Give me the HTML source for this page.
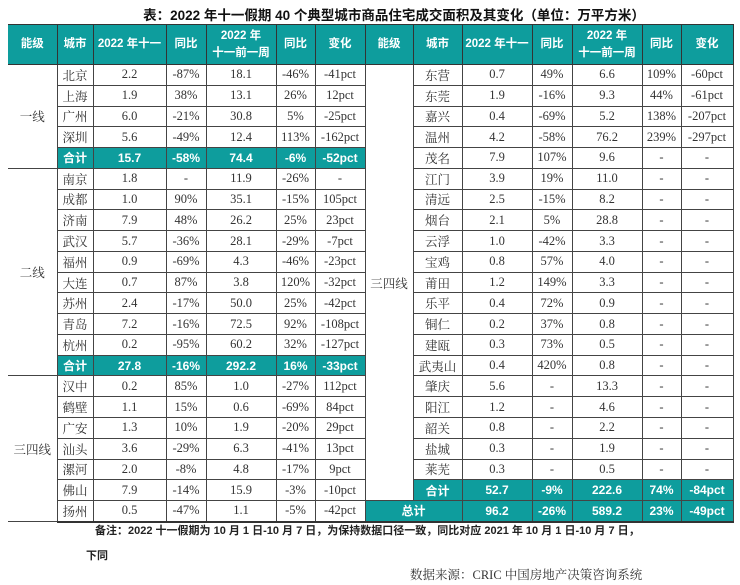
<!DOCTYPE html>
<html><head><meta charset="utf-8"><style>
body{margin:0;width:740px;height:585px;background:#fff;position:relative;overflow:hidden;font-family:"Liberation Serif","Noto Serif CJK SC",serif;}
.title{position:absolute;top:4px;left:0;width:740px;text-align:center;padding-left:48px;box-sizing:border-box;font-family:"Liberation Sans","Noto Sans CJK SC",sans-serif;font-weight:bold;font-size:13.5px;color:#111;}
table{position:absolute;left:8px;top:24px;border-collapse:collapse;table-layout:fixed;font-size:12.5px;color:#333;}
td,th{border:1px solid #444;text-align:center;padding:0;height:19.77px;white-space:nowrap;overflow:hidden;}
th{background:#0e9d9d;color:#fff;font-family:"Liberation Sans","Noto Sans CJK SC",sans-serif;font-weight:bold;font-size:11.5px;height:39px;border-color:#333;line-height:17px;}
.t td{background:#0e9d9d;color:#fff;font-family:"Liberation Sans","Noto Sans CJK SC",sans-serif;font-weight:bold;font-size:12px;}
td.lv{border-left:none;background:#fff!important;color:#333!important;font-weight:normal!important;font-family:"Liberation Serif","Noto Serif CJK SC",serif!important;}
tr.last td{border-bottom:2px solid #333;}
th.first{border-left:none;}
.w{background:#fff!important;color:#333!important;font-family:"Liberation Serif","Noto Serif CJK SC",serif!important;font-weight:normal!important;font-size:12.5px!important;}
.note{position:absolute;top:522px;left:95px;font-family:"Liberation Sans","Noto Sans CJK SC",sans-serif;font-weight:bold;font-size:11px;color:#222;}
.note2{position:absolute;top:547px;left:86px;font-family:"Liberation Sans","Noto Sans CJK SC",sans-serif;font-weight:bold;font-size:11px;color:#222;}
.src{position:absolute;top:565px;left:410px;font-size:12.5px;color:#333;}
</style></head><body>
<div class="title">表：2022 年十一假期 40 个典型城市商品住宅成交面积及其变化（单位：万平方米）</div>
<table>
<colgroup><col style="width:49px"><col style="width:36px"><col style="width:73px"><col style="width:40px"><col style="width:70px"><col style="width:39px"><col style="width:50px"><col style="width:48px"><col style="width:49px"><col style="width:70px"><col style="width:40px"><col style="width:70px"><col style="width:39px"><col style="width:52px"></colgroup>
<tr><th class="first">能级</th><th>城市</th><th>2022 年十一</th><th>同比</th><th>2022 年<br>十一前一周</th><th>同比</th><th>变化</th><th>能级</th><th>城市</th><th>2022 年十一</th><th>同比</th><th>2022 年<br>十一前一周</th><th>同比</th><th>变化</th></tr>
<tr><td class="lv" rowspan="5">一线</td><td>北京</td><td>2.2</td><td>-87%</td><td>18.1</td><td>-46%</td><td>-41pct</td><td class="lv" rowspan="21">三四线</td><td>东营</td><td>0.7</td><td>49%</td><td>6.6</td><td>109%</td><td>-60pct</td></tr>
<tr><td>上海</td><td>1.9</td><td>38%</td><td>13.1</td><td>26%</td><td>12pct</td><td>东莞</td><td>1.9</td><td>-16%</td><td>9.3</td><td>44%</td><td>-61pct</td></tr>
<tr><td>广州</td><td>6.0</td><td>-21%</td><td>30.8</td><td>5%</td><td>-25pct</td><td>嘉兴</td><td>0.4</td><td>-69%</td><td>5.2</td><td>138%</td><td>-207pct</td></tr>
<tr><td>深圳</td><td>5.6</td><td>-49%</td><td>12.4</td><td>113%</td><td>-162pct</td><td>温州</td><td>4.2</td><td>-58%</td><td>76.2</td><td>239%</td><td>-297pct</td></tr>
<tr class="t"><td>合计</td><td>15.7</td><td>-58%</td><td>74.4</td><td>-6%</td><td>-52pct</td><td class="w">茂名</td><td class="w">7.9</td><td class="w">107%</td><td class="w">9.6</td><td class="w">-</td><td class="w">-</td></tr>
<tr><td class="lv" rowspan="10">二线</td><td>南京</td><td>1.8</td><td>-</td><td>11.9</td><td>-26%</td><td>-</td><td>江门</td><td>3.9</td><td>19%</td><td>11.0</td><td>-</td><td>-</td></tr>
<tr><td>成都</td><td>1.0</td><td>90%</td><td>35.1</td><td>-15%</td><td>105pct</td><td>清远</td><td>2.5</td><td>-15%</td><td>8.2</td><td>-</td><td>-</td></tr>
<tr><td>济南</td><td>7.9</td><td>48%</td><td>26.2</td><td>25%</td><td>23pct</td><td>烟台</td><td>2.1</td><td>5%</td><td>28.8</td><td>-</td><td>-</td></tr>
<tr><td>武汉</td><td>5.7</td><td>-36%</td><td>28.1</td><td>-29%</td><td>-7pct</td><td>云浮</td><td>1.0</td><td>-42%</td><td>3.3</td><td>-</td><td>-</td></tr>
<tr><td>福州</td><td>0.9</td><td>-69%</td><td>4.3</td><td>-46%</td><td>-23pct</td><td>宝鸡</td><td>0.8</td><td>57%</td><td>4.0</td><td>-</td><td>-</td></tr>
<tr><td>大连</td><td>0.7</td><td>87%</td><td>3.8</td><td>120%</td><td>-32pct</td><td>莆田</td><td>1.2</td><td>149%</td><td>3.3</td><td>-</td><td>-</td></tr>
<tr><td>苏州</td><td>2.4</td><td>-17%</td><td>50.0</td><td>25%</td><td>-42pct</td><td>乐平</td><td>0.4</td><td>72%</td><td>0.9</td><td>-</td><td>-</td></tr>
<tr><td>青岛</td><td>7.2</td><td>-16%</td><td>72.5</td><td>92%</td><td>-108pct</td><td>铜仁</td><td>0.2</td><td>37%</td><td>0.8</td><td>-</td><td>-</td></tr>
<tr><td>杭州</td><td>0.2</td><td>-95%</td><td>60.2</td><td>32%</td><td>-127pct</td><td>建瓯</td><td>0.3</td><td>73%</td><td>0.5</td><td>-</td><td>-</td></tr>
<tr class="t"><td>合计</td><td>27.8</td><td>-16%</td><td>292.2</td><td>16%</td><td>-33pct</td><td class="w">武夷山</td><td class="w">0.4</td><td class="w">420%</td><td class="w">0.8</td><td class="w">-</td><td class="w">-</td></tr>
<tr><td class="lv" rowspan="7">三四线</td><td>汉中</td><td>0.2</td><td>85%</td><td>1.0</td><td>-27%</td><td>112pct</td><td>肇庆</td><td>5.6</td><td>-</td><td>13.3</td><td>-</td><td>-</td></tr>
<tr><td>鹤壁</td><td>1.1</td><td>15%</td><td>0.6</td><td>-69%</td><td>84pct</td><td>阳江</td><td>1.2</td><td>-</td><td>4.6</td><td>-</td><td>-</td></tr>
<tr><td>广安</td><td>1.3</td><td>10%</td><td>1.9</td><td>-20%</td><td>29pct</td><td>韶关</td><td>0.8</td><td>-</td><td>2.2</td><td>-</td><td>-</td></tr>
<tr><td>汕头</td><td>3.6</td><td>-29%</td><td>6.3</td><td>-41%</td><td>13pct</td><td>盐城</td><td>0.3</td><td>-</td><td>1.9</td><td>-</td><td>-</td></tr>
<tr><td>漯河</td><td>2.0</td><td>-8%</td><td>4.8</td><td>-17%</td><td>9pct</td><td>莱芜</td><td>0.3</td><td>-</td><td>0.5</td><td>-</td><td>-</td></tr>
<tr class="t"><td class="w">佛山</td><td class="w">7.9</td><td class="w">-14%</td><td class="w">15.9</td><td class="w">-3%</td><td class="w">-10pct</td><td>合计</td><td>52.7</td><td>-9%</td><td>222.6</td><td>74%</td><td>-84pct</td></tr>
<tr class="t last"><td class="w">扬州</td><td class="w">0.5</td><td class="w">-47%</td><td class="w">1.1</td><td class="w">-5%</td><td class="w">-42pct</td><td colspan="2">总计</td><td>96.2</td><td>-26%</td><td>589.2</td><td>23%</td><td>-49pct</td></tr>
</table>
<div class="note">备注：2022 十一假期为 10 月 1 日-10 月 7 日，为保持数据口径一致，同比对应 2021 年 10 月 1 日-10 月 7 日，</div>
<div class="note2">下同</div>
<div class="src">数据来源：CRIC 中国房地产决策咨询系统</div>
</body></html>
